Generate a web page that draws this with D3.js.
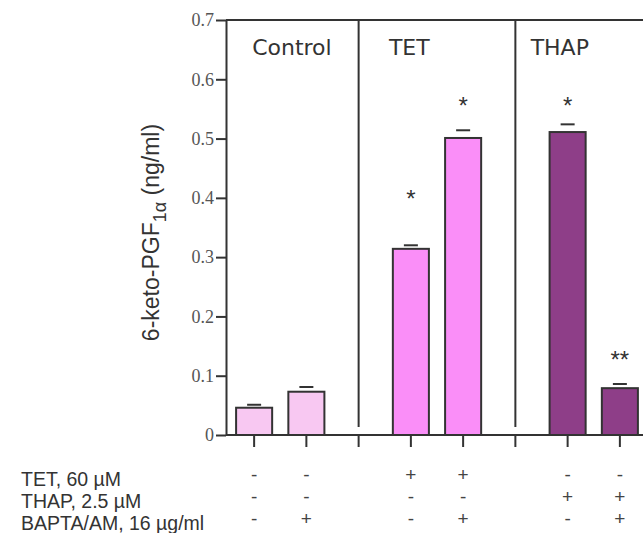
<!DOCTYPE html>
<html>
<head>
<meta charset="utf-8">
<script src="https://cdn.jsdelivr.net/npm/d3@7"></script>
<style>
  body { margin: 0; background: #fff; }
  svg { display: block; }
</style>
</head>
<body>
<div id="wrapper"></div>
<script>
// slots along the x axis: 2 empty slots sit where the panel dividers are
const slots = ["c1", "c2", "div1", "t1", "t2", "div2", "h1", "h2"];
const barSlots = ["c1", "c2", "t1", "t2", "h1", "h2"];
const values = [0.046, 0.073, 0.314, 0.501, 0.511, 0.079];
const errors = [0.005, 0.008, 0.006, 0.013, 0.013, 0.007];
const barGroup = ["Control", "Control", "TET", "TET", "THAP", "THAP"];
const groups = ["Control", "TET", "THAP"];
const groupColors = ["#f8c8f2", "#fa8ef8", "#8e3e88"];
const sigLabels = ["", "", "*", "*", "*", "**"];
const sigLevels = [null, null, 0.405, 0.562, 0.562, 0.133];
const yTicks = [0, 0.1, 0.2, 0.3, 0.4, 0.5, 0.6, 0.7];
const rowLabels = ["TET, 60 µM", "THAP, 2.5 µM", "BAPTA/AM, 16 µg/ml"];
const tetSigns = ["-", "-", "+", "+", "-", "-"];
const thapSigns = ["-", "-", "-", "-", "+", "+"];
const baptaSigns = ["-", "+", "-", "+", "-", "+"];

const dimension = {
    width: 643,
    height: 533,
    margin: { top: 20, left: 226, bottom: 98, right: -4 }
};
dimension.boundedWidth = dimension.width - dimension.margin.left - dimension.margin.right;
dimension.boundedHeight = dimension.height - dimension.margin.top - dimension.margin.bottom;

const ink = "#333";

const svg = d3.select("#wrapper").append("svg")
    .attr("width", dimension.width)
    .attr("height", dimension.height);

const xScaler = d3.scaleBand()
    .domain(slots)
    .range([dimension.margin.left + 2, dimension.margin.left + 2 + 52.25 * 8])
    .paddingInner(0.31)
    .paddingOuter(0.155);

const yScaler = d3.scaleLinear()
    .domain([0, 0.7])
    .range([dimension.margin.top + dimension.boundedHeight, dimension.margin.top]);

const color = d3.scaleOrdinal().domain(groups).range(groupColors);
const cx = s => xScaler(s) + xScaler.bandwidth() / 2;

// frame: top line
svg.append("line")
    .attr("x1", dimension.margin.left).attr("x2", dimension.width)
    .attr("y1", yScaler(0.7)).attr("y2", yScaler(0.7))
    .attr("stroke", ink).attr("stroke-width", 2);

// panel dividers
svg.selectAll(".divider")
    .data(["div1", "div2"])
    .enter()
    .append("line")
    .attr("class", "divider")
    .attr("x1", d => cx(d)).attr("x2", d => cx(d))
    .attr("y1", yScaler(0.7)).attr("y2", yScaler(0) - 8)
    .attr("stroke", ink).attr("stroke-width", 2);

// y axis
const yAxis = svg.append("g")
    .attr("transform", `translate(${dimension.margin.left},0)`)
    .call(d3.axisLeft(yScaler).tickValues(yTicks).tickSize(10).tickSizeOuter(0)
        .tickFormat(d => d === 0 ? "0" : d.toFixed(1)));
yAxis.select(".domain").attr("stroke", ink).attr("stroke-width", 2);
yAxis.selectAll(".tick line").attr("stroke", ink).attr("stroke-width", 2);
yAxis.selectAll(".tick text")
    .attr("x", -12)
    .attr("fill", "#555")
    .attr("font-family", "'Liberation Serif', 'Times New Roman', serif")
    .attr("font-size", 18);

// x axis
const xAxis = svg.append("g")
    .attr("transform", `translate(0,${yScaler(0)})`)
    .call(d3.axisBottom(xScaler).tickSize(12).tickSizeOuter(0).tickFormat(""));
xAxis.select(".domain")
    .attr("d", `M${dimension.margin.left},0H${dimension.width}`)
    .attr("stroke", ink).attr("stroke-width", 2);
xAxis.selectAll(".tick line").attr("stroke", ink).attr("stroke-width", 2);

// bars
svg.selectAll(".bar")
    .data(values)
    .enter()
    .append("rect")
    .attr("class", "bar")
    .attr("x", (d, i) => xScaler(barSlots[i]))
    .attr("width", xScaler.bandwidth())
    .attr("y", d => yScaler(d))
    .attr("height", d => yScaler(0) - yScaler(d))
    .attr("fill", (d, i) => color(barGroup[i]))
    .attr("stroke", ink)
    .attr("stroke-width", 2);

// error caps
svg.selectAll(".cap")
    .data(values)
    .enter()
    .append("line")
    .attr("class", "cap")
    .attr("x1", (d, i) => cx(barSlots[i]) - 7)
    .attr("x2", (d, i) => cx(barSlots[i]) + 7)
    .attr("y1", (d, i) => yScaler(d + errors[i]))
    .attr("y2", (d, i) => yScaler(d + errors[i]))
    .attr("stroke", ink)
    .attr("stroke-width", 2);

// significance stars
svg.selectAll(".sig")
    .data(sigLabels.map((s, i) => ({ s, i })).filter(d => d.s))
    .enter()
    .append("text")
    .attr("class", "sig")
    .attr("x", d => cx(barSlots[d.i]))
    .attr("y", d => yScaler(sigLevels[d.i]) + 12)
    .attr("text-anchor", "middle")
    .attr("fill", ink)
    .style("font-family", "'Liberation Sans', Arial, sans-serif")
    .style("font-size", "24px")
    .text(d => d.s);

// panel titles
const titleAnchor = [
    { slot: "c1", dx: -2, anchor: "start" },
    { slot: "t1", dx: -22, anchor: "start" },
    { slot: "h1", dx: -37, anchor: "start" }
];
svg.selectAll(".title")
    .data(groups)
    .enter()
    .append("text")
    .attr("class", "title")
    .attr("x", (d, i) => cx(titleAnchor[i].slot) + titleAnchor[i].dx)
    .attr("y", 55)
    .attr("text-anchor", (d, i) => titleAnchor[i].anchor)
    .attr("fill", ink)
    .style("font-family", "'DejaVu Sans', sans-serif")
    .style("font-size", "22px")
    .text(d => d);

// y label
const yLabel = svg.append("text")
    .attr("transform", `translate(159,${(120 + 345) / 2}) rotate(-90)`)
    .attr("text-anchor", "middle")
    .attr("fill", ink)
    .style("font-family", "'Liberation Sans', Arial, sans-serif")
    .style("font-size", "23px");
yLabel.append("tspan").text("6-keto-PGF");
yLabel.append("tspan").attr("dy", 7).style("font-size", "18px").text("1α");
yLabel.append("tspan").attr("dy", -7).text(" (ng/ml)");

// treatment table
const rowBase = [486, 508, 530];
const signRows = [tetSigns, thapSigns, baptaSigns];
svg.selectAll(".rowlabel")
    .data(rowLabels)
    .enter()
    .append("text")
    .attr("class", "rowlabel")
    .attr("x", 21)
    .attr("y", (d, i) => rowBase[i])
    .attr("fill", ink)
    .style("font-family", "'Liberation Sans', Arial, sans-serif")
    .style("font-size", "19.5px")
    .text(d => d);

signRows.forEach((row, r) => {
    svg.selectAll(".sign" + r)
        .data(row)
        .enter()
        .append("text")
        .attr("class", "sign" + r)
        .attr("x", (d, i) => cx(barSlots[i]))
        .attr("y", rowBase[r] - 5)
        .attr("text-anchor", "middle")
        .attr("fill", "#444")
        .style("font-family", "'Liberation Sans', Arial, sans-serif")
        .style("font-size", "19px")
        .text(d => d);
});
</script>
</body>
</html>
